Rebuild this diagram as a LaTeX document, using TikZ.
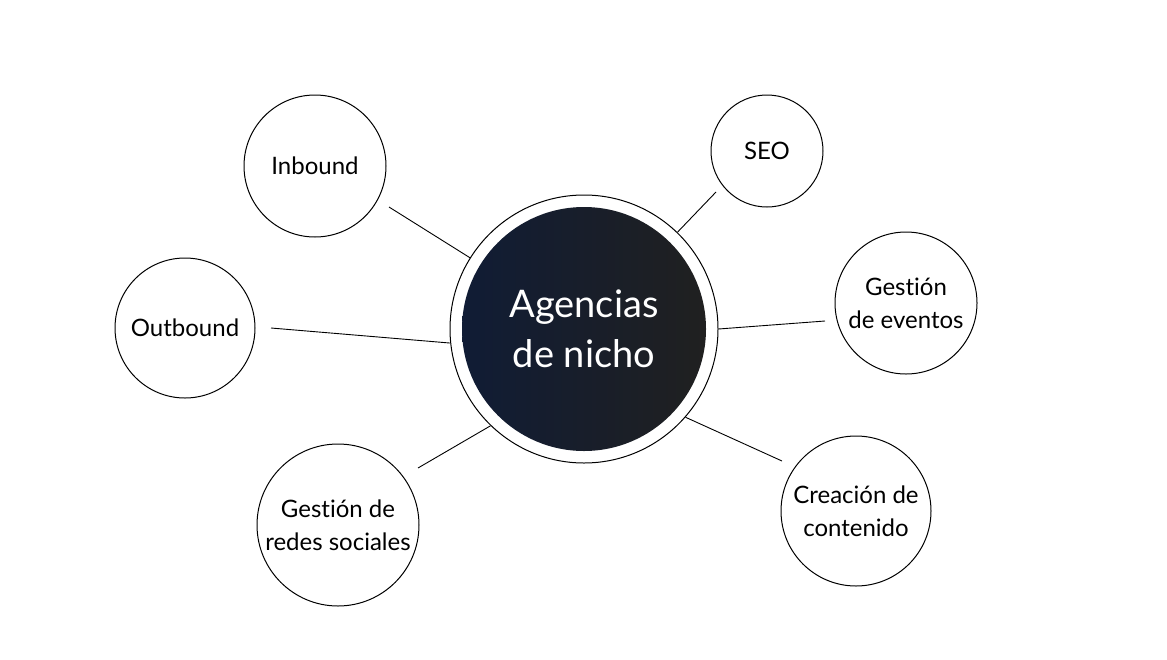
\documentclass[tikz,border=0pt]{standalone}
\usepackage{fontspec}
\setmainfont{Lato}[Ligatures={NoCommon}]
\begin{document}
\begin{tikzpicture}[x=1pt,y=-1pt,
  bub/.style={circle,draw=black,line width=1pt,inner sep=0pt,align=center,font=\fontsize{24}{33}\selectfont},
  link/.style={draw=black,line width=0.9pt}]
\useasboundingbox (0,0) rectangle (1167,659);
\fill[white] (0,0) rectangle (1167,659);
\node[circle,draw=black,line width=1pt,minimum size=268pt,inner sep=0pt] (ring) at (584,329) {};
\node[circle,minimum size=244pt,inner sep=0pt,left color={rgb,255:red,16;green,28;blue,53},right color={rgb,255:red,32;green,32;blue,32},shading=axis,text=white,align=center,font=\fontsize{38}{50}\selectfont] (core) at (584,329) {Agencias\\de nicho};
\node[bub,minimum size=142pt] (inb) at (315,166) {Inbound};
\node[bub,minimum size=140pt] (outb) at (185,328) {Outbound};
\node[bub,minimum size=162pt] (redes) at (338,525) {Gestión de\\redes sociales};
\node[bub,minimum size=112pt] (seo) at (767,151) {SEO};
\node[bub,minimum size=142pt] (evt) at (906,303) {Gestión\\de eventos};
\node[bub,minimum size=150pt] (cre) at (856,511) {Creación de\\contenido};
\coordinate (inbE) at (389,207);
\coordinate (outbE) at (271,328);
\coordinate (redesE) at (418,468);
\coordinate (seoE) at (716,192);
\coordinate (evtE) at (825,321);
\coordinate (creE) at (782,461);
\draw[link] (ring.148.4) -- (inbE);
\draw[link] (ring.186.9) -- (outbE);
\draw[link] (ring.226.8) -- (redesE);
\draw[link] (ring.46.2) -- (seoE);
\draw[link] (ring.0) -- (evtE);
\draw[link] (ring.-41) -- (creE);
\end{tikzpicture}
\end{document}
